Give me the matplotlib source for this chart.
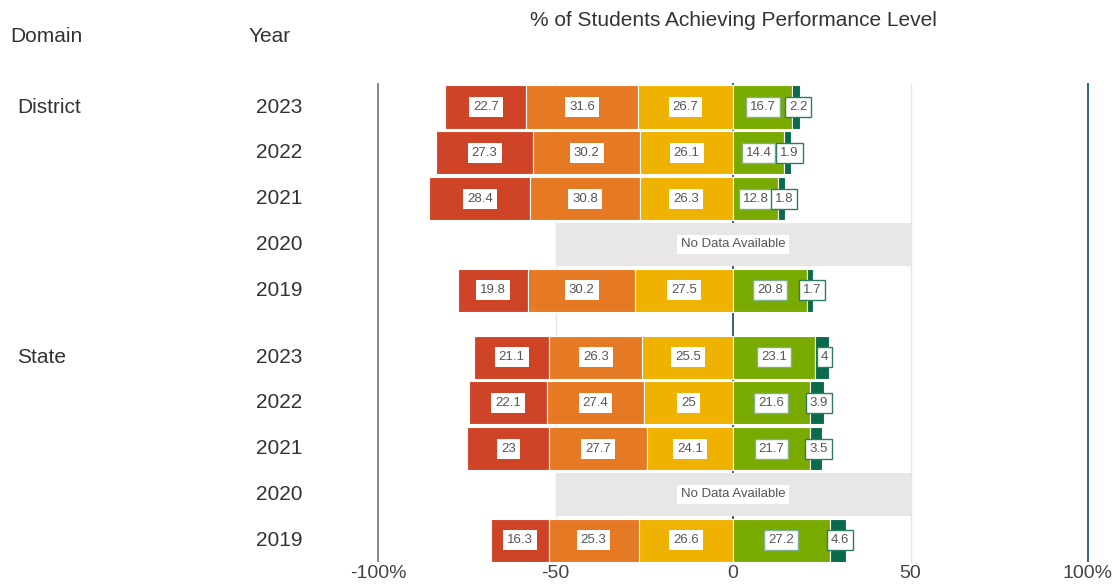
import numpy as np
import matplotlib
matplotlib.use('Agg')
import matplotlib.pyplot as plt

plt.rcParams['font.family'] = ['Liberation Sans Narrow', 'Liberation Sans', 'DejaVu Sans']

#data (percent of students per performance level)
domains = ['District', 'State']
years = ['2023', '2022', '2021', '2020', '2019']
levels = ['Level 1', 'Level 2', 'Level 3', 'Level 4', 'Level 5']

district = [[22.7, 31.6, 26.7, 16.7, 2.2],
            [27.3, 30.2, 26.1, 14.4, 1.9],
            [28.4, 30.8, 26.3, 12.8, 1.8],
            None,
            [19.8, 30.2, 27.5, 20.8, 1.7]]
state = [[21.1, 26.3, 25.5, 23.1, 4],
         [22.1, 27.4, 25, 21.6, 3.9],
         [23, 27.7, 24.1, 21.7, 3.5],
         None,
         [16.3, 25.3, 26.6, 27.2, 4.6]]

xticks = [-100, -50, 0, 50, 100]
xticklabels = ['-100%', '-50', '0', '50', '100%']
nodata_range = (-50, 50)

colors = ['#CF4426', '#E67A24', '#F0B200', '#79AA00', '#0A6A4C']
txtcol = '#555555'

#row layout: spacing of one unit per year, gap between domains
group_gap = 1.46
rows = {}
for g, dname in enumerate(domains):
    for j, yr in enumerate(years):
        rows[(g, j)] = g * (len(years) - 1 + group_gap) + j

fig = plt.figure(figsize=(11.14, 5.85), dpi=100)
ax = fig.add_axes([0, 23/585, 1, 562/585])
px = 3.55  # pixels per percent
ax.set_xlim(-733/px, (1114-733)/px)
row_px = 45.8
ax.set_ylim(-107/row_px + 562/row_px, -107/row_px)

for s in ax.spines.values():
    s.set_visible(False)
ax.set_yticks([])
ax.set_xticks(xticks)
ax.set_xticklabels(xticklabels, fontsize=14, color='#444444')
ax.tick_params(axis='x', length=0, pad=2)

y_top = rows[(0, 0)] - 0.52
y_bot = rows[(1, 4)] + 0.55
#gridlines and boundary lines
ax.vlines([-50, 50], y_top, y_bot + 0.3, color='#E6E6E6', lw=1, zorder=0)
ax.vlines(-100, y_top, y_bot + 0.3, color='#808080', lw=1.3, zorder=0)
ax.vlines(100, y_top, y_bot + 0.3, color='#3A6A80', lw=1.5, zorder=0)
ax.vlines(0, y_top, y_bot, color='#2B5468', lw=1.3, zorder=1)

h = 0.94
for g, data in enumerate([district, state]):
    for j, vals in enumerate(data):
        y = rows[(g, j)]
        if vals is None:
            ax.barh(y, nodata_range[1] - nodata_range[0], left=nodata_range[0],
                    height=h, color='#E9E7E5', zorder=2)
            ax.text(0, y, 'No Data Available', ha='center', va='center',
                    fontsize=9.5, color=txtcol, zorder=4,
                    bbox=dict(boxstyle='square,pad=0.25', fc='white', ec='none'))
            continue
        neg = vals[:3]
        pos = vals[3:]
        lefts = [-sum(neg)]
        for v in neg[:-1]:
            lefts.append(lefts[-1] + v)
        lefts.append(0)
        lefts.append(pos[0])
        for k, v in enumerate(vals):
            ax.barh(y, v, left=lefts[k], height=h, color=colors[k],
                    edgecolor='white', lw=0.8, zorder=2)
        for k, v in enumerate(vals):
            cx = lefts[k] + v / 2
            ec = 'none'
            if k == 3:
                ec = '#7FB08A'
            if k == 4:
                ec = '#2E7D5E'
                cx = lefts[k] + v / 2 + 0.6
            lab = ('%g' % v)
            ax.text(cx, y, lab, ha='center', va='center', fontsize=9.5,
                    color=txtcol, zorder=4,
                    bbox=dict(boxstyle='square,pad=0.3', fc='white', ec=ec, lw=1))

#headers and row labels
for g, dname in enumerate(domains):
    ax.text(-733/px + 17/px, rows[(g, 0)], dname, ha='left', va='center',
            fontsize=15, color='#333333')
    for j, yr in enumerate(years):
        ax.text(-733/px + 256/px, rows[(g, j)], yr, ha='left', va='center',
                fontsize=15, color='#333333')

fig.text(10/1114, 1 - 37/585, 'Domain', ha='left', va='center', fontsize=15, color='#333333')
fig.text(249/1114, 1 - 37/585, 'Year', ha='left', va='center', fontsize=15, color='#333333')
fig.text(733/1114, 1 - 20/585, '% of Students Achieving Performance Level',
         ha='center', va='center', fontsize=15, color='#333333')

fig.savefig('out.png', dpi=100, facecolor='white')
